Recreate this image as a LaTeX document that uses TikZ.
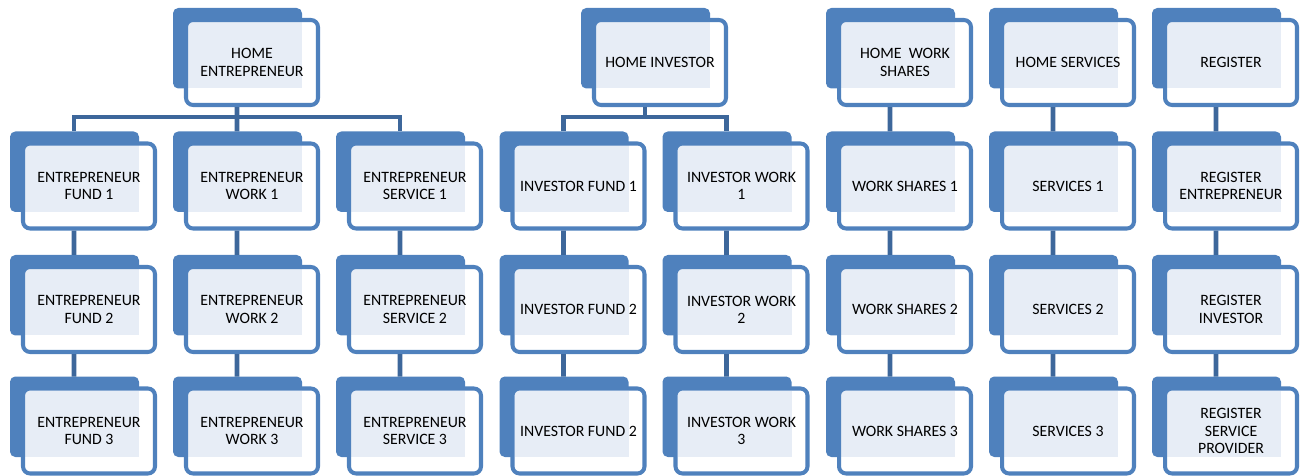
\documentclass[tikz,border=0pt]{standalone}
\usepackage{fontspec}
\setmainfont{Carlito}
\usepackage{tikz}
\usetikzlibrary{positioning}
\definecolor{tabblue}{RGB}{79,129,189}
\definecolor{linkblue}{RGB}{61,103,155}
\definecolor{tintblue}{RGB}{231,237,246}
\tikzset{
	frontbox/.style={draw=tabblue, line width=2.3pt, rounded corners=4pt, minimum width=2.64cm, minimum height=1.70cm, inner sep=0pt, align=center, font=\fontsize{9}{9.8}\selectfont},
	link/.style={draw=linkblue, line width=2.8pt}
}
% back tab, white face, tint, then the named face
\newcommand{\tabbox}[4]{
	\fill[tabblue, rounded corners=3pt] (#2-79, #3-54.5) rectangle (#2+50, #3+26);
	\fill[white, rounded corners=4pt] (#2-66, #3-42.5) rectangle (#2+66, #3+42.5);
	\fill[tintblue] (#2-64, #3-40.5) rectangle (#2+50, #3+26);
	\node[frontbox] (#1) at (#2, #3) {#4};
	\coordinate (#1-tab) at (#2-15, #3-54.5);
}

\begin{document}
\begin{tikzpicture}[x=0.02cm, y=-0.02cm]
	\useasboundingbox (0,0) rectangle (1302,476);
	% Entrepreneur
	\tabbox{he}{252}{62.5}{HOME\\ENTREPRENEUR}
	\tabbox{ef1}{89}{186}{ENTREPRENEUR\\FUND 1}
	\tabbox{ef2}{89}{309.5}{ENTREPRENEUR\\FUND 2}
	\tabbox{ef3}{89}{431}{ENTREPRENEUR\\FUND 3}
	\tabbox{ew1}{252}{186}{ENTREPRENEUR\\WORK 1}
	\tabbox{ew2}{252}{309.5}{ENTREPRENEUR\\WORK 2}
	\tabbox{ew3}{252}{431}{ENTREPRENEUR\\WORK 3}
	\tabbox{es1}{415}{186}{ENTREPRENEUR\\SERVICE 1}
	\tabbox{es2}{415}{309.5}{ENTREPRENEUR\\SERVICE 2}
	\tabbox{es3}{415}{431}{ENTREPRENEUR\\SERVICE 3}
	% Investor
	\tabbox{hi}{660}{62.5}{HOME INVESTOR}
	\tabbox{if1}{578.5}{186}{INVESTOR FUND 1}
	\tabbox{if2}{578.5}{309.5}{INVESTOR FUND 2}
	\tabbox{if3}{578.5}{431}{INVESTOR FUND 2}
	\tabbox{iw1}{741.5}{186}{INVESTOR WORK\\1}
	\tabbox{iw2}{741.5}{309.5}{INVESTOR WORK\\2}
	\tabbox{iw3}{741.5}{431}{INVESTOR WORK\\3}
	% Work shares
	\tabbox{hw}{905}{62.5}{HOME~~WORK\\SHARES}
	\tabbox{ws1}{905}{186}{WORK SHARES 1}
	\tabbox{ws2}{905}{309.5}{WORK SHARES 2}
	\tabbox{ws3}{905}{431}{WORK SHARES 3}
	% Services
	\tabbox{hs}{1068}{62.5}{HOME SERVICES}
	\tabbox{sv1}{1068}{186}{SERVICES 1}
	\tabbox{sv2}{1068}{309.5}{SERVICES 2}
	\tabbox{sv3}{1068}{431}{SERVICES 3}
	% Register
	\tabbox{rg}{1231}{62.5}{REGISTER}
	\tabbox{rg1}{1231}{186}{REGISTER\\ENTREPRENEUR}
	\tabbox{rg2}{1231}{309.5}{REGISTER\\INVESTOR}
	\tabbox{rg3}{1231}{431}{REGISTER\\SERVICE\\PROVIDER}

	% connectors
	\draw[link] (ef1-tab) -- ++(0,-14.5) -| (es1-tab);
	\draw[link] ([xshift=-0.3cm]he.south) -- (ew1-tab);
	\draw[link] (if1-tab) -- ++(0,-14.5) -| (iw1-tab);
	\draw[link] ([xshift=-0.3cm]hi.south) -- ++(0,11);
	\draw[link] ([xshift=-0.3cm]hw.south) -- (ws1-tab);
	\draw[link] ([xshift=-0.3cm]hs.south) -- (sv1-tab);
	\draw[link] ([xshift=-0.3cm]rg.south) -- (rg1-tab);
	\draw[link] ([xshift=-0.3cm]ef1.south) -- (ef2-tab);
	\draw[link] ([xshift=-0.3cm]ef2.south) -- (ef3-tab);
	\draw[link] ([xshift=-0.3cm]ew1.south) -- (ew2-tab);
	\draw[link] ([xshift=-0.3cm]ew2.south) -- (ew3-tab);
	\draw[link] ([xshift=-0.3cm]es1.south) -- (es2-tab);
	\draw[link] ([xshift=-0.3cm]es2.south) -- (es3-tab);
	\draw[link] ([xshift=-0.3cm]if1.south) -- (if2-tab);
	\draw[link] ([xshift=-0.3cm]if2.south) -- (if3-tab);
	\draw[link] ([xshift=-0.3cm]iw1.south) -- (iw2-tab);
	\draw[link] ([xshift=-0.3cm]iw2.south) -- (iw3-tab);
	\draw[link] ([xshift=-0.3cm]ws1.south) -- (ws2-tab);
	\draw[link] ([xshift=-0.3cm]ws2.south) -- (ws3-tab);
	\draw[link] ([xshift=-0.3cm]sv1.south) -- (sv2-tab);
	\draw[link] ([xshift=-0.3cm]sv2.south) -- (sv3-tab);
	\draw[link] ([xshift=-0.3cm]rg1.south) -- (rg2-tab);
	\draw[link] ([xshift=-0.3cm]rg2.south) -- (rg3-tab);
\end{tikzpicture}
\end{document}
